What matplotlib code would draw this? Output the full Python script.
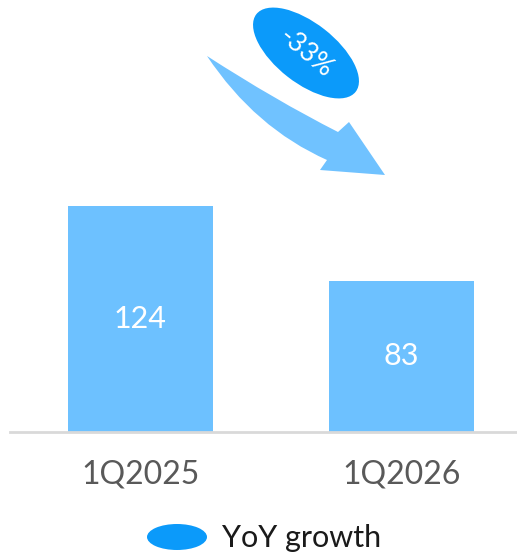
import numpy as np
import matplotlib
matplotlib.use("Agg")
import matplotlib.pyplot as plt
from matplotlib.patches import Ellipse, PathPatch
from matplotlib.path import Path

# data
categories = ["1Q2025", "1Q2026"]
values = [124, 83]
growth_label = "-33%"
legend_label = "YoY growth"

BAR_COLOR = "#6DC1FF"
ARROW_COLOR = "#70C2FF"
DARK_BLUE = "#0B9AFA"
W, H = 517, 553

plt.rcParams["font.family"] = ["Lato", "DejaVu Sans"]

fig = plt.figure(figsize=(W / 100, H / 100), dpi=100)

# axes: baseline at y=432px, spans x 10..517
ax = fig.add_axes([10 / W, 1 - 432 / H, 507 / W, 432 / H])
x = np.arange(len(categories))
ax.bar(x, values, width=0.556, color=BAR_COLOR)
ax.set_xlim(-0.5, 1.443)
ax.set_ylim(0, 432 / 1.823)
for xi, v in zip(x, values):
    ax.text(xi, v / 2, str(v), ha="center", va="center", color="white", fontsize=22)
for s in ["top", "right", "left"]:
    ax.spines[s].set_visible(False)
ax.spines["bottom"].set_color("#D9D9D9")
ax.spines["bottom"].set_linewidth(2)
ax.set_yticks([])
ax.set_xticks(x)
ax.set_xticklabels(categories, fontsize=23, color="#595959")
ax.tick_params(axis="x", length=0, pad=20)


def fp(px, py):
    return (px / W, 1 - py / H)


# curved arrow (decoration, figure pixel coords)
verts = [fp(207, 56),
         fp(275, 100), fp(338, 132),
         fp(349, 122),
         fp(385, 175),
         fp(320, 170),
         fp(327, 160),
         fp(255, 128), fp(207, 56),
         fp(207, 56)]
codes = [Path.MOVETO,
         Path.CURVE3, Path.CURVE3,
         Path.LINETO,
         Path.LINETO,
         Path.LINETO,
         Path.LINETO,
         Path.CURVE3, Path.CURVE3,
         Path.CLOSEPOLY]
fig.patches.append(PathPatch(Path(verts, codes), facecolor=ARROW_COLOR,
                             edgecolor="none", transform=fig.transFigure))

# growth ellipse
cx, cy = fp(306, 53)
fig.patches.append(Ellipse((306, H - 53), 126, 60, angle=-38,
                           facecolor=DARK_BLUE, edgecolor="none",
                           transform=None))
fig.text(cx, cy, growth_label, ha="center", va="center", color="white",
         fontsize=19, rotation=-40)

# legend
fig.patches.append(Ellipse((177, H - 537), 60, 26, facecolor=DARK_BLUE,
                           edgecolor="none", transform=None))
lx, ly = fp(222, 538)
fig.text(lx, ly, legend_label, ha="left", va="center", color="#1A1A1A", fontsize=22)

fig.savefig("out.png", dpi=100)
